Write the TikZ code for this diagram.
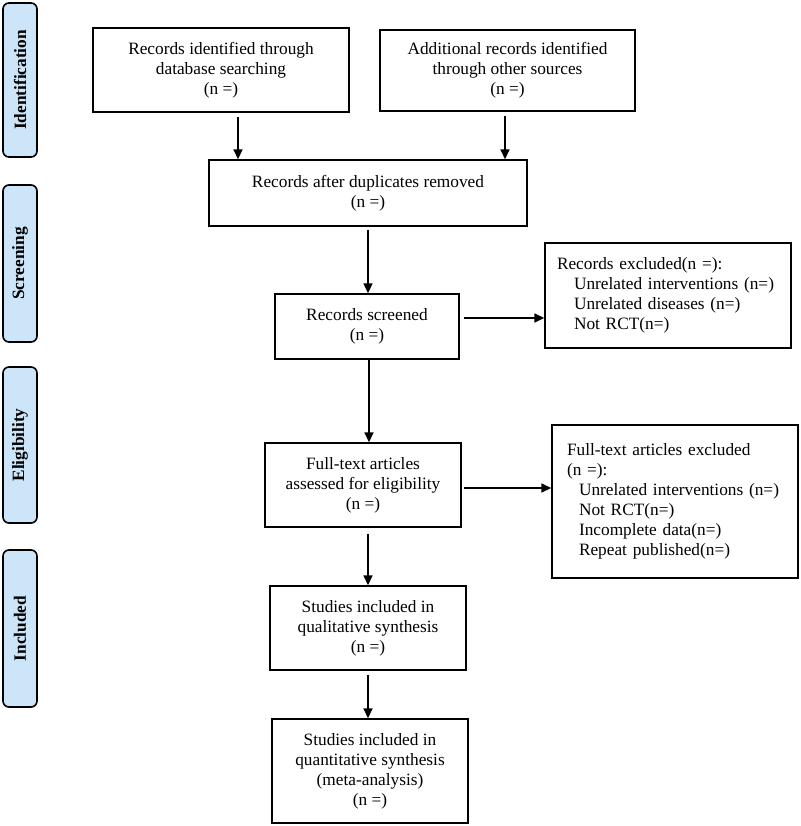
\documentclass[tikz,border=0pt]{standalone}
\usepackage{fontspec}
\setmainfont{Liberation Serif}
\usetikzlibrary{arrows.meta}
\definecolor{stagefill}{RGB}{204,229,248}
\tikzset{
  txt/.style={font=\fontsize{17.3}{20}\selectfont},
  box/.style={txt,draw,line width=1.4pt,align=center,inner sep=0pt},
  stage/.style={draw,line width=1.6pt,rounded corners=6pt,fill=stagefill,
    rotate=90,font=\fontsize{17.3}{20}\selectfont\bfseries,minimum height=34pt,inner sep=0pt},
  arr/.style={line width=1.6pt,-{Triangle[length=10pt,width=9pt]}},
}
\begin{document}
\begin{tikzpicture}[x=1pt,y=-1pt]
\fill[white] (0,0) rectangle (800,826);

% stages on the left
\node[stage,minimum width=154pt] (idf) at (20,80) {Identification};
\node[stage,minimum width=157pt] (scn) at (20,263.5) {Screening};
\node[stage,minimum width=156pt] (elg) at (20,445) {Eligibility};
\node[stage,minimum width=157pt] (inc) at (20,628.5) {Included};

% main column
\node[box,minimum width=256pt,minimum height=84pt] (db) at (221,70)
  {Records identified through\\database searching\\(n =)};
\node[box,minimum width=255pt,minimum height=81pt] (other) at (507.5,70.5)
  {Additional records identified\\through other sources\\(n =)};
\node[box,minimum width=318pt,minimum height=66pt] (dup) at (368,193)
  {Records after duplicates removed\\(n =)};
\node[box,minimum width=184pt,minimum height=65pt] (scr) at (367,326.5)
  {Records screened\\(n =)};
\node[box,minimum width=196pt,minimum height=84pt] (full) at (363,485)
  {Full-text articles\\assessed for eligibility\\(n =)};
\node[box,minimum width=196pt,minimum height=84pt] (qual) at (368,628)
  {Studies included in\\qualitative synthesis\\(n =)};
\node[box,minimum width=196pt,minimum height=104pt] (quan) at (370,771)
  {Studies included in\\quantitative synthesis\\(meta-analysis)\\(n =)};

% exclusions
\node[box,align=left,text width=222pt,inner xsep=12pt,minimum height=105pt] (exc1) at (668,295.5)
  {Records excluded(n =):\\
   \hspace*{17pt}Unrelated interventions (n=)\\
   \hspace*{17pt}Unrelated diseases (n=)\\
   \hspace*{17pt}Not RCT(n=)};
\node[box,align=left,text width=216pt,inner xsep=15pt,minimum height=153pt] (exc2) at (675,501.5)
  {Full-text articles excluded\\
   (n =):\\
   \hspace*{12pt}Unrelated interventions (n=)\\
   \hspace*{12pt}Not RCT(n=)\\
   \hspace*{12pt}Incomplete data(n=)\\
   \hspace*{12pt}Repeat published(n=)};

% arrows
\draw[arr,shorten <=4pt] ([xshift=17pt]db.south) -- ([xshift=17pt]db.south |- dup.north);
\draw[arr,shorten <=4pt] ([xshift=-2.5pt]other.south) -- ([xshift=-2.5pt]other.south |- dup.north);
\draw[arr,shorten <=3pt] (dup.south) -- (dup.south |- scr.north);
\draw[arr,shorten <=4pt] ([yshift=8.5pt]scr.east) -- ([yshift=8.5pt]scr.east -| exc1.west);
\draw[arr] ([xshift=2pt]scr.south) -- ([xshift=2pt]scr.south |- full.north);
\draw[arr,shorten <=2pt] ([yshift=-3pt]full.east) -- ([yshift=-3pt]full.east -| exc2.west);
\draw[arr,shorten <=6pt] ([xshift=5pt]full.south) -- ([xshift=5pt]full.south |- qual.north);
\draw[arr,shorten <=4pt] (qual.south) -- (qual.south |- quan.north);
\end{tikzpicture}
\end{document}
